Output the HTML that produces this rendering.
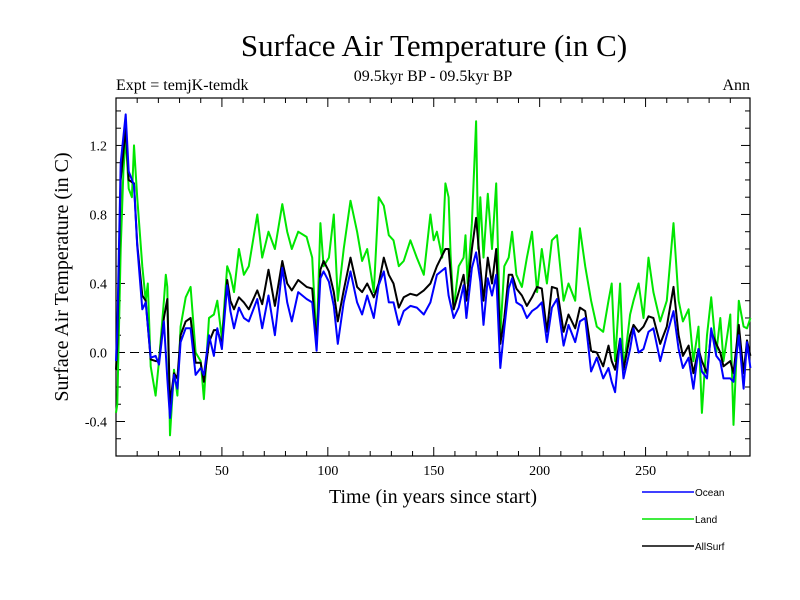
<!DOCTYPE html>
<html><head><meta charset="utf-8"><style>
body{margin:0;background:#fff;}
svg{display:block;font-family:"Liberation Serif",serif;}
</style></head><body>
<svg id="chart" width="800" height="600" xmlns="http://www.w3.org/2000/svg">
<rect width="800" height="600" fill="#fff"/>
<text x="434" y="56" font-size="31" text-anchor="middle">Surface Air Temperature (in C)</text>
<text x="433" y="81" font-size="16" text-anchor="middle">09.5kyr BP - 09.5kyr BP</text>
<text x="116" y="90" font-size="16">Expt = temjK-temdk</text>
<text x="750" y="90" font-size="16" text-anchor="end">Ann</text>
<text x="0" y="0" font-size="20" text-anchor="middle" transform="translate(68,277) rotate(-90)">Surface Air Temperature (in C)</text>
<text x="433" y="503" font-size="20" text-anchor="middle">Time (in years since start)</text>
<g id="axes"></g>
<g id="series"></g>
<g id="legend"></g>
</svg>
<script>
const oceanYears=[0,0.6,2.2,4.6,6,8.5,10,12.4,14,16.4,18.7,20.3,22.6,24.2,25.5,27.4,29,30.5,32.9,35.2,37.6,40,41.5,43.9,46.2,47.8,50,52.5,54,55.7,58,60.4,62.7,66.7,69,72,75,78.5,80.8,83,86,90,92.6,94.7,96.5,98,100.5,102.8,104.7,107.5,110.7,113.8,116.2,118.6,121.7,124,126.4,128.8,131,133.5,135.8,139,142,145.3,148.4,151.5,155.5,157,159.4,161.8,164.1,165.4,168,170,172,173.5,175.5,177.5,179.5,181.4,183.3,185.4,187,189,191.6,194,196.4,198.8,201,203.4,205.8,208.2,211.3,213.6,216.8,219,221.5,224.3,227,230,232.5,234,235.6,238,239.6,242.7,244.3,246.7,249,251.4,253.7,256.9,260,263.2,265.6,267.6,270.3,272.6,275,276.6,279,281,283.4,285.3,286.8,290,291.5,294,296.3,297.9,299.5];
const oceanValues=[-0.05,0.14,1.1,1.38,1.05,0.97,0.62,0.25,0.29,-0.03,-0.02,-0.07,0.18,-0.15,-0.38,-0.13,-0.21,0.06,0.14,0.14,-0.13,-0.09,-0.13,0.1,-0.02,0.14,0.02,0.39,0.24,0.14,0.26,0.2,0.18,0.31,0.14,0.33,0.1,0.49,0.29,0.18,0.35,0.31,0.29,0.01,0.43,0.47,0.41,0.27,0.05,0.29,0.47,0.29,0.22,0.33,0.2,0.39,0.47,0.29,0.29,0.16,0.24,0.27,0.26,0.22,0.29,0.45,0.49,0.33,0.2,0.26,0.39,0.2,0.49,0.58,0.41,0.16,0.43,0.33,0.45,-0.09,0.14,0.37,0.43,0.29,0.27,0.2,0.24,0.26,0.29,0.06,0.26,0.31,0.04,0.16,0.06,0.18,0.2,-0.11,-0.03,-0.15,-0.09,-0.17,-0.23,0.08,-0.15,0.02,0.14,0.0,0.02,0.12,0.14,-0.05,0.1,0.24,0.02,-0.09,-0.03,-0.21,0.02,-0.11,-0.15,0.14,-0.02,-0.05,-0.15,-0.15,-0.17,0.1,-0.21,0.06,-0.09];
const allYears=[0,0.6,2.2,4.6,6,8.5,10,12.4,14,16.4,18.7,20.3,22.6,24.2,25.5,27.4,29,30.5,32.9,35.2,37.6,40,41.5,43.9,46.2,47.8,50,52.5,54,55.7,58,60.4,62.7,66.7,69,72,75,78.5,80.8,83,86,90,92.6,94.7,96.5,98,100.5,102.8,104.7,107.5,110.7,113.8,116.2,118.6,121.7,124,126.4,128.8,131,133.5,135.8,139,142,145.3,148.4,151.5,155.5,157,159.4,161.8,164.1,165.4,168,170,172,173.5,175.5,177.5,179.5,181.4,183.3,185.4,187,189,191.6,194,196.4,198.8,201,203.4,205.8,208.2,211.3,213.6,216.8,219,221.5,224.3,227,230,232.5,234,235.6,238,239.6,242.7,244.3,246.7,249,251.4,253.7,256.9,260,263.2,265.6,267.6,270.3,272.6,275,276.6,279,281,283.4,285.3,286.8,290,291.5,294,296.3,297.9,299.5];
const allValues=[-0.1,0.05,1.0,1.3,1.0,0.98,0.63,0.33,0.3,-0.04,-0.05,-0.05,0.2,0.31,-0.3,-0.12,-0.15,0.1,0.18,0.2,-0.06,-0.06,-0.17,0.06,0.13,0.13,0.05,0.42,0.3,0.25,0.32,0.29,0.25,0.36,0.28,0.48,0.27,0.53,0.4,0.36,0.42,0.38,0.37,0.05,0.48,0.53,0.47,0.35,0.18,0.36,0.55,0.38,0.35,0.4,0.32,0.4,0.55,0.45,0.4,0.26,0.32,0.34,0.33,0.36,0.4,0.5,0.6,0.6,0.25,0.35,0.45,0.3,0.6,0.78,0.5,0.3,0.55,0.4,0.6,0.05,0.2,0.45,0.45,0.37,0.33,0.27,0.32,0.38,0.37,0.12,0.38,0.37,0.12,0.22,0.14,0.26,0.24,0.01,0.0,-0.08,0.04,-0.05,-0.1,0.08,-0.1,0.1,0.16,0.12,0.15,0.21,0.2,0.05,0.15,0.38,0.1,-0.02,0.04,-0.12,0.02,-0.05,-0.12,0.12,0.05,0.0,-0.08,-0.05,-0.12,0.16,-0.12,0.07,-0.02];
const landYears=[0,0.6,2.2,3.5,4.6,6,7.5,8.5,10,12.4,14,15,16.4,18.7,20.3,22.6,23.5,24.2,25.5,27.4,29,30.5,32.9,35.2,37.6,40,41.5,43.9,46.2,47.8,50,52.5,54,55.7,58,60.4,62.7,66.7,69,72,75,78.5,80.8,83,86,90,92.6,94.7,96.5,98,100.5,102.8,104.7,107.5,110.7,113.8,116.2,118.6,121.7,124,126.4,128.8,131,133.5,135.8,139,142,145.3,148.4,150,151.5,154,155.5,157,158,159.4,161.8,164.1,165,166,168,170,171,172,173.5,175.5,177.5,179.5,181.4,183.3,185.4,187,189,191.6,194,196.4,198.8,201,203.4,205.8,208.2,211.3,213.6,216.8,219,221.5,224.3,227,230,232.5,234,235.6,238,239.6,242.7,244.3,246.7,249,251.4,253.7,256.9,260,263.2,265.6,267.6,270.3,272.6,275,276.6,279,281,283.4,285.3,286.8,290,291.5,294,296.3,297.9,299.5];
const landValues=[-0.35,-0.3,0.6,1.05,1.25,0.95,0.9,1.2,0.9,0.5,0.3,0.4,-0.08,-0.25,-0.05,0.3,0.45,0.38,-0.48,-0.1,-0.25,0.15,0.32,0.38,0.0,-0.05,-0.27,0.2,0.22,0.3,0.08,0.5,0.45,0.35,0.6,0.45,0.5,0.8,0.55,0.7,0.6,0.86,0.7,0.6,0.7,0.67,0.55,0.05,0.75,0.5,0.55,0.8,0.3,0.6,0.88,0.7,0.53,0.6,0.35,0.9,0.85,0.68,0.65,0.5,0.53,0.65,0.55,0.45,0.8,0.65,0.7,0.55,0.98,0.9,0.55,0.25,0.5,0.55,0.68,0.4,0.75,1.34,0.6,0.9,0.55,0.92,0.6,0.98,0.1,0.5,0.55,0.7,0.45,0.38,0.55,0.7,0.35,0.6,0.4,0.65,0.68,0.3,0.4,0.3,0.72,0.5,0.3,0.15,0.12,0.3,0.4,-0.05,0.4,-0.1,0.22,0.3,0.4,0.2,0.55,0.35,0.18,0.3,0.75,0.3,0.18,0.25,-0.05,0.15,-0.35,0.1,0.32,0.0,0.2,-0.05,0.22,-0.42,0.3,0.15,0.14,0.2];
const xTickValues=[50,100,150,200,250];
const yTickValues=[-0.4,0.0,0.4,0.8,1.2];
const yTickLabels=["-0.4","0.0","0.4","0.8","1.2"];

const NS="http://www.w3.org/2000/svg";
const L=116,R=750,T=98,B=456;
const X0=0,X1=299.3,Y0=-0.6,Y1=1.475;
function xs(v){return L+(v-X0)/(X1-X0)*(R-L);}
function ys(v){return B-(v-Y0)/(Y1-Y0)*(B-T);}
function mk(tag,attrs,parent){const e=document.createElementNS(NS,tag);for(const k in attrs)e.setAttribute(k,attrs[k]);parent.appendChild(e);return e;}
const axes=document.getElementById('axes');
// zero line
const zl=mk('line',{x1:L,x2:R,y1:ys(0),y2:ys(0),stroke:'#000','stroke-width':1,'stroke-dasharray':'9,5'},axes);


// x ticks
for(let v=10;v<300;v+=10){
  const major=v%50===0;const len=major?9:5;
  const t1=mk('line',{x1:xs(v),x2:xs(v),y1:B,y2:B-len,stroke:'#000','stroke-width':1},axes);
  
  
  const t2=mk('line',{x1:xs(v),x2:xs(v),y1:T,y2:T+len,stroke:'#000','stroke-width':1},axes);
  
  
}
xTickValues.forEach(v=>{
  const t=mk('text',{x:xs(v),y:B+19,'font-size':14,'text-anchor':'middle'},axes);
  t.textContent=String(v);
  
  
});
// y ticks
for(let i=-5;i<=14;i++){
  const v=i/10;const major=(i%4===0);const len=major?9:5;
  const t1=mk('line',{x1:L,x2:L+len,y1:ys(v),y2:ys(v),stroke:'#000','stroke-width':1},axes);
  
  
  const t2=mk('line',{x1:R,x2:R-len,y1:ys(v),y2:ys(v),stroke:'#000','stroke-width':1},axes);
  
  
}
yTickValues.forEach((v,i)=>{
  const t=mk('text',{x:L-9,y:ys(v)+5,'font-size':14,'text-anchor':'end'},axes);
  t.textContent=yTickLabels[i];
  
  
});
const frame=mk('rect',{x:L,y:T,width:R-L,height:B-T,fill:'none',stroke:'#000','stroke-width':1.2},axes);


// series
const sg=document.getElementById('series');
function drawLine(years,vals,color,name){
  const d=years.map((y,i)=>(i?'L':'M')+xs(y).toFixed(1)+','+ys(vals[i]).toFixed(1)).join('');
  const p=mk('path',{d:d,fill:'none',stroke:color,'stroke-width':2,'stroke-linejoin':'round'},sg);
  
  
}
drawLine(landYears,landValues,'#00e600','land-line');
drawLine(allYears,allValues,'#000000','allsurf-line');
drawLine(oceanYears,oceanValues,'#0000ff','ocean-line');
// legend
const lg=document.getElementById('legend');
[['Ocean','#0000ff',492,'legend-entry-ocean'],['Land','#00e600',519,'legend-entry-land'],['AllSurf','#000000',546,'legend-entry-allsurf']].forEach(e=>{
  const g=mk('g',{},lg);
  
  
  mk('line',{x1:642,x2:694,y1:e[2],y2:e[2],stroke:e[1],'stroke-width':1.5},g);
  const t=mk('text',{x:695,y:e[2]+4,'font-size':10,'font-family':'Liberation Sans, sans-serif'},g);
  t.textContent=e[0];
});
</script>
</body></html>
